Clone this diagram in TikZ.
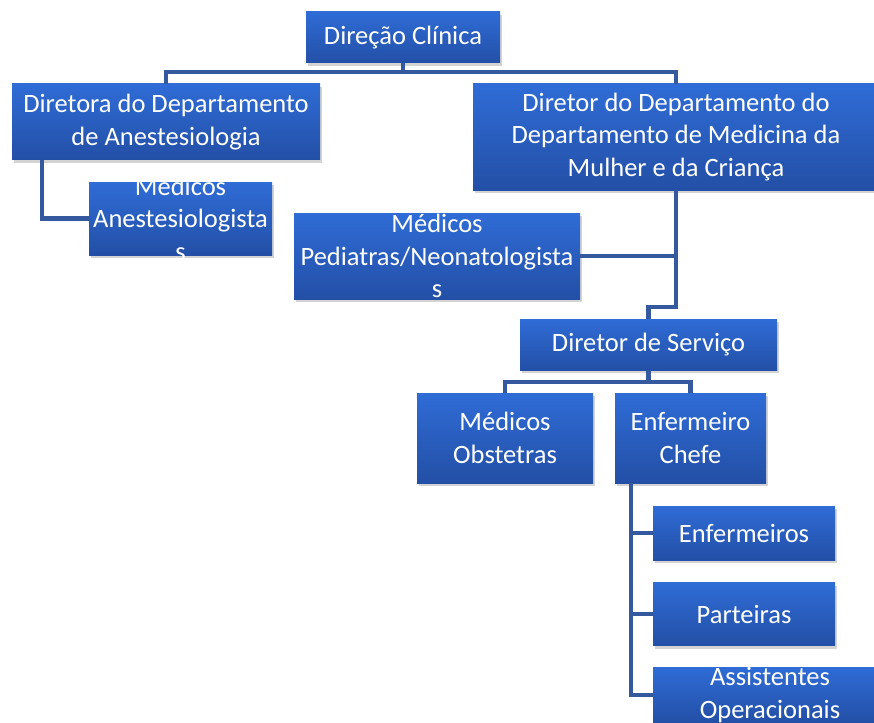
\documentclass[tikz,border=0pt]{standalone}
\usepackage{fontspec}
\setmainfont{Carlito}
\usetikzlibrary{shadows}
\definecolor{boxtop}{HTML}{2F6CD6}
\definecolor{boxbot}{HTML}{234FA6}
\definecolor{wire}{HTML}{34599E}
\begin{document}
\begin{tikzpicture}[x=1pt, y=-1pt, line join=miter,
    txt/.style={text=white, align=center, inner sep=0pt, font=\fontsize{26.5}{32.5}\selectfont},
    unit/.style={draw=none, top color=boxtop, bottom color=boxbot, txt,
                 drop shadow={opacity=0.35, shadow xshift=2pt, shadow yshift=-3pt}},
    wr/.style={draw=wire, line width=4.5pt}]
  \useasboundingbox (0,0) rectangle (874,722);
  \clip (0,0) rectangle (874,722);
  \node[unit, minimum width=194pt, minimum height=51pt]  (dc)     at (403,37.5)  {Direção Clínica};
  \node[unit, minimum width=308pt, minimum height=76pt]  (dan)    at (166,122)   {Diretora do Departamento\\de Anestesiologia};
  \node[unit, minimum width=406pt, minimum height=106pt] (dmmc)   at (676,137)   {Diretor do Departamento do\\Departamento de Medicina da\\Mulher e da Criança};
  % boxes whose text overflows: text set as a label so the box keeps its size
  \node[unit, minimum width=183pt, minimum height=73pt,
        label={[txt]center:{Médicos\\Anestesiologista\\s}}]        (manest) at (180.5,218.5) {};
  \node[unit, minimum width=286pt, minimum height=86pt,
        label={[txt]center:{Médicos\\Pediatras/Neonatologista\\s}}] (mped)   at (437,256)   {};
  \node[unit, minimum width=257pt, minimum height=51pt]  (dserv)  at (648.5,344.5) {Diretor de Serviço};
  \node[unit, minimum width=176pt, minimum height=90pt]  (mobst)  at (505,438)   {Médicos\\Obstetras};
  \node[unit, minimum width=151pt, minimum height=90pt]  (echefe) at (690.5,438) {Enfermeiro\\Chefe};
  \node[unit, minimum width=182pt, minimum height=54pt]  (enf)    at (744,533)   {Enfermeiros};
  \node[unit, minimum width=182pt, minimum height=63pt]  (part)   at (744,614)   {Parteiras};
  \node[unit, minimum width=234pt, minimum height=56pt,
        label={[txt]center:{Assistentes\\Operacionais}}]            (assist) at (770,695)   {};
  % connectors
  \draw[wr] (dc.south) -- ++(0,9) -| (dan.north);
  \draw[wr] (dc.south) -- ++(0,9) -| (dmmc.north);
  \draw[wr] ([xshift=30pt]dan.south west) |- (manest.west);
  \draw[wr] (dmmc.south) -- ++(0,117) -| (dserv.north);
  \draw[wr] (mped.east) -- (mped.east -| dmmc.south);
  \draw[wr] (dserv.south) -- ++(0,12) -| (mobst.north);
  \draw[wr] (dserv.south) -- ++(0,12) -| (echefe.north);
  \draw[wr] ([xshift=16pt]echefe.south west) |- (enf.west);
  \draw[wr] ([xshift=16pt]echefe.south west) |- (part.west);
  \draw[wr] ([xshift=16pt]echefe.south west) |- (assist.west);
\end{tikzpicture}
\end{document}
